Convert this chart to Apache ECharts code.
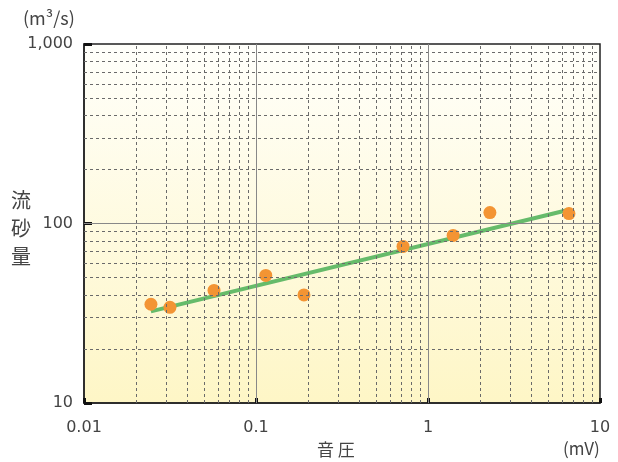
<!DOCTYPE html>
<html>
<head>
<meta charset="utf-8">
<script src="https://cdn.jsdelivr.net/npm/echarts@6/dist/echarts.min.js"></script>
<style>
html,body{margin:0;padding:0;background:#fff;}
#chart{width:618px;height:462px;}
</style>
</head>
<body>
<div id="chart"></div>
<script>
// Sound pressure (mV) vs. sediment discharge (m³/s), log-log
const pressure = [0.0245, 0.0316, 0.057, 0.114, 0.19, 0.716, 1.40, 2.29, 6.6];
const discharge = [35.5, 34.1, 42.4, 51.4, 40.0, 74.5, 85.8, 115, 113.6];
// fitted trend line end points
const trendX = [0.0245, 6.69];
const trendY = [32.4, 119.6];
// minor grid positions
const minorX = [0.02,0.03,0.04,0.05,0.06,0.07,0.08,0.09,0.2,0.3,0.4,0.5,0.6,0.7,0.8,0.9,2,3,4,5,6,7,8,9];
const minorY = [20,30,40,50,60,70,80,90,200,300,400,500,600,700,800,900];
const majorX = [0.1, 1];
const majorY = [100];
const xTickLabels = {0.01:'0.01', 0.1:'0.1', 1:'1', 10:'10'};
const yTickLabels = {10:'10', 100:'100', 1000:'1,000'};

const FONT = '"Noto Sans CJK JP", "Noto Sans", sans-serif';
const NUM_FONT = '"DejaVu Sans", sans-serif';
const chart = echarts.init(document.getElementById('chart'), null, {renderer:'canvas'});

const gridLines = [];
minorX.forEach(v => gridLines.push({xAxis: v, lineStyle:{type:[3,3], color:'#6a6a6a', width:1}}));
minorY.forEach(v => gridLines.push({yAxis: v, lineStyle:{type:[3,3], color:'#6a6a6a', width:1}}));
majorX.forEach(v => gridLines.push({xAxis: v, lineStyle:{type:'solid', color:'#888', width:1}}));
majorY.forEach(v => gridLines.push({yAxis: v, lineStyle:{type:'solid', color:'#888', width:1}}));

chart.setOption({
  animation:false,
  grid:{
    left:84, right:18, top:44, bottom:59,
    show:true,
    borderColor:'#222', borderWidth:1.5,
    backgroundColor:new echarts.graphic.LinearGradient(0,0,0,1,[
      {offset:0, color:'#fffffb'},
      {offset:1, color:'#fef6c6'}
    ])
  },
  xAxis:{
    type:'log', logBase:10, min:0.01, max:10,
    axisLine:{show:true, lineStyle:{color:'#222', width:1.5}},
    axisTick:{show:true, inside:true, length:5, lineStyle:{color:'#111', width:3}},
    splitLine:{show:false},
    axisLabel:{color:'#444', fontSize:16, fontFamily:NUM_FONT, margin:17,
      formatter:v => xTickLabels[+v.toPrecision(3)] || ''}
  },
  yAxis:{
    type:'log', logBase:10, min:10, max:1000,
    axisLine:{show:true, lineStyle:{color:'#222', width:1.5}},
    axisTick:{show:true, inside:true, length:8, lineStyle:{color:'#111', width:3}},
    splitLine:{show:false},
    axisLabel:{color:'#444', fontSize:16, fontFamily:NUM_FONT, margin:11,
      formatter:v => yTickLabels[Math.round(v)] || ''}
  },
  graphic:[
    {type:'text', left:23, top:9, style:{text:'(m³/s)', fontSize:18, fill:'#444', fontFamily:FONT}},
    {type:'text', left:11, top:186, style:{text:'流\n砂\n量', fontSize:20, lineHeight:28, fill:'#444', fontFamily:FONT}},
    {type:'text', left:317, top:441, style:{text:'音 圧', fontSize:17, fill:'#444', fontFamily:FONT}},
    {type:'text', left:563, top:440, style:{text:'(mV)', fontSize:17, fill:'#444', fontFamily:FONT}}
  ],
  series:[
    {
      type:'line', data:[], silent:true,
      markLine:{silent:true, symbol:'none', label:{show:false}, data:gridLines}
    },
    {
      type:'line', silent:true, symbol:'none',
      data:trendX.map((x,i)=>[x, trendY[i]]),
      lineStyle:{color:'#66bb6a', width:4}, z:3
    },
    {
      type:'scatter', symbolSize:13,
      data:pressure.map((x,i)=>[x, discharge[i]]),
      itemStyle:{color:'#f39433', opacity:1}, z:4
    }
  ]
});
</script>
</body>
</html>
